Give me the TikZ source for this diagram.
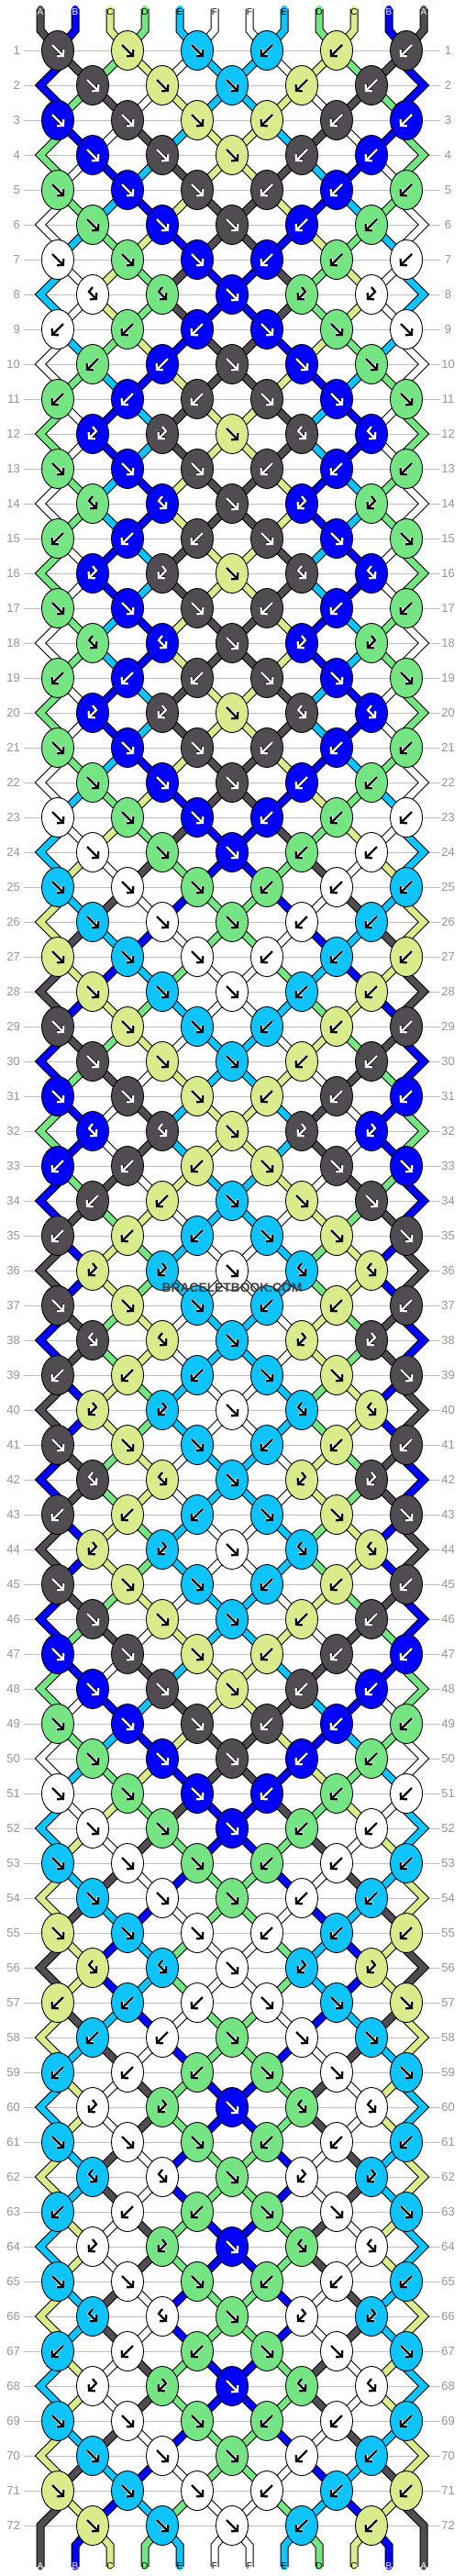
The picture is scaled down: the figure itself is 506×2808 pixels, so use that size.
\documentclass[tikz,border=0pt]{standalone}
\usepackage{fontspec}
\setmainfont{Liberation Sans}
\usetikzlibrary{shapes.geometric,arrows.meta}
\definecolor{yarnA}{RGB}{80,76,82}
\definecolor{yarnB}{RGB}{0,0,255}
\definecolor{yarnC}{RGB}{217,235,138}
\definecolor{yarnD}{RGB}{116,229,130}
\definecolor{yarnE}{RGB}{13,196,253}
\definecolor{yarnF}{RGB}{255,255,255}
\colorlet{tagA}{white}\colorlet{tagB}{white}\colorlet{tagC}{black}
\colorlet{tagD}{black}\colorlet{tagE}{black}\colorlet{tagF}{black}
\definecolor{gridgray}{RGB}{190,190,190}
\definecolor{numgray}{RGB}{150,150,150}
\definecolor{wmgray}{RGB}{64,64,64}
\tikzstyle{knot}     = [ellipse, draw=black, line width=0.9pt, minimum width=35pt, minimum height=43pt, inner sep=0pt]
\tikzstyle{yarnline} = [line width=7pt, line cap=round, line join=miter, preaction={draw=black, line width=9pt}]
\tikzstyle{gridline} = [draw=gridgray, line width=1pt]
\tikzstyle{rowno}    = [text=numgray, font=\fontsize{13}{13}\selectfont, inner sep=0pt]
\tikzstyle{tag}      = [font=\fontsize{10}{10}\selectfont, inner sep=0pt]
\tikzstyle{glyph}    = [line width=2.3pt, line join=miter, -{Straight Barb[length=4.5pt,width=10pt]}]
\tikzstyle{inklite}  = [draw=white, preaction={draw=black, line width=3.3pt}]
\tikzstyle{inkdark}  = [draw=black, preaction={draw=white, line width=3.3pt}]
\def\sideF{l}\def\sideX{l}\def\sideB{r}\def\sideY{r}
\def\flipF{B}\def\flipB{F}\def\flipX{Y}\def\flipY{X}
\def\swapF{1}\def\swapB{1}\def\swapX{0}\def\swapY{0}
\def\inkA{inklite}\def\inkB{inklite}\def\inkC{inkdark}\def\inkD{inkdark}\def\inkE{inkdark}\def\inkF{inkdark}
\newcommand\glyphF{(-6,-6) -- (7,7)}
\newcommand\glyphB{(6,-6) -- (-7,7)}
\newcommand\glyphX{(0,-8) -- (-4,-3) -- (5,6)}
\newcommand\glyphY{(0,-8) -- (4,-3) -- (-5,6)}
\newcommand\settype[3]{%
  \ifnum#1=6
    \ifnum#2<4 \edef\kt{#3}\else\edef\kt{\csname flip#3\endcsname}\fi
  \else
    \ifnum#2<3 \edef\kt{#3}\else\ifnum#2=3 \def\kt{F}\else\edef\kt{\csname flip#3\endcsname}\fi\fi
  \fi}
\newcommand\yarn[2]{\draw[yarnline, draw=yarn#1] #2;}

\begin{document}
\begin{tikzpicture}[x=1pt, y=-1pt]
\useasboundingbox (0,0) rectangle (506,2808);
\fill[white] (0,0) rectangle (506,2808);
\foreach \rw in {1,...,72} {
  \pgfmathtruncatemacro\ky{17+38*\rw}
  \draw[gridline] (26,\ky) -- (480,\ky);
  \node[rowno, anchor=east] (nl-\rw) at (22,\ky) {\rw};
  \node[rowno] (nr-\rw) at (488.5,\ky) {\rw};
}

\foreach \p/\c in {1/A,2/B,3/C,4/D,5/E,6/F,7/F,8/E,9/D,10/C,11/B,12/A} {
  \pgfmathtruncatemacro\sx{6+38*\p}
  \expandafter\xdef\csname st\p\endcsname{\c}
  \coordinate (t-\p) at (\sx,9.5);
  \coordinate (b-\p) at (\sx,2798);
}

\foreach \rt [count=\rw] in {F,F,F,F,F,F,F,X,B,B,B,Y,F,X,B,Y,F,X,B,Y,F,F,F,F,F,F,F,F,F,F,F,X,B,B,B,Y,F,X,B,Y,F,X,B,Y,F,F,F,F,F,F,F,F,F,F,F,X,B,B,B,Y,F,X,B,Y,F,X,B,Y,F,F,F,F} {
  \pgfmathtruncatemacro\ky{17+38*\rw}
  \pgfmathtruncatemacro\rprev{\rw-1}
  \ifodd\rw\relax\def\nk{6}\else\def\nk{5}\fi
  \foreach \q in {1,...,\nk} {
    \settype{\nk}{\q}{\rt}
    \ifodd\rw\relax
      \pgfmathtruncatemacro\lp{2*\q-1}\pgfmathtruncatemacro\kx{76*\q-13}
    \else
      \pgfmathtruncatemacro\lp{2*\q}\pgfmathtruncatemacro\kx{76*\q+25}
    \fi
    \pgfmathtruncatemacro\rp{\lp+1}
    \if l\csname side\kt\endcsname\edef\kc{\csname st\lp\endcsname}\else\edef\kc{\csname st\rp\endcsname}\fi
    \expandafter\xdef\csname kc\rw-\q\endcsname{\kc}
    \expandafter\xdef\csname kt\rw-\q\endcsname{\kt}
    \coordinate (k-\rw-\q) at (\kx,\ky);
  }
  \ifnum\rw=1
    \foreach \p in {1,...,12} {
      \pgfmathtruncatemacro\qb{int((\p+1)/2)}
      \edef\yc{\csname st\p\endcsname}
      \yarn{\yc}{(t-\p) -- ++(0,23.5) -- (k-1-\qb)}
    }
  \else
    \foreach \p in {2,...,11} {
      \ifodd\rw\relax
        \pgfmathtruncatemacro\qa{int(\p/2)}\pgfmathtruncatemacro\qb{int((\p+1)/2)}
      \else
        \pgfmathtruncatemacro\qa{int((\p+1)/2)}\pgfmathtruncatemacro\qb{int(\p/2)}
      \fi
      \edef\yc{\csname st\p\endcsname}
      \yarn{\yc}{(k-\rprev-\qa) -- (k-\rw-\qb)}
    }
    \ifodd\rw\relax
      \pgfmathtruncatemacro\rpp{\rw-2}
      \edef\yc{\csname st1\endcsname}
      \yarn{\yc}{(k-\rpp-1) -- ++(0,19) -- (c-\rprev-L) -- ++(19,19) -- (k-\rw-1)}
      \edef\yc{\csname st12\endcsname}
      \yarn{\yc}{(k-\rpp-6) -- ++(0,19) -- (c-\rprev-R) -- ++(-19,19) -- (k-\rw-6)}
    \else
      \coordinate (c-\rw-L) at (44,\ky);
      \coordinate (c-\rw-R) at (462,\ky);
    \fi
  \fi
  \foreach \q in {1,...,\nk} {
    \settype{\nk}{\q}{\rt}
    \if1\csname swap\kt\endcsname
      \ifodd\rw\relax\pgfmathtruncatemacro\lp{2*\q-1}\else\pgfmathtruncatemacro\lp{2*\q}\fi
      \pgfmathtruncatemacro\rp{\lp+1}
      \edef\ya{\csname st\lp\endcsname}\edef\yb{\csname st\rp\endcsname}
      \expandafter\xdef\csname st\lp\endcsname{\yb}
      \expandafter\xdef\csname st\rp\endcsname{\ya}
    \fi
  }
}

\foreach \p in {2,...,11} {
  \pgfmathtruncatemacro\qb{int(\p/2)}
  \edef\yc{\csname st\p\endcsname}
  \yarn{\yc}{(b-\p) -- ++(0,-23) -- (k-72-\qb)}
}
\edef\yc{\csname st1\endcsname}
\yarn{\yc}{(k-71-1) -- ++(0,19) -- (c-72-L) -- (b-1)}
\edef\yc{\csname st12\endcsname}
\yarn{\yc}{(k-71-6) -- ++(0,19) -- (c-72-R) -- (b-12)}

\foreach \p/\c in {1/A,2/B,3/C,4/D,5/E,6/F,7/F,8/E,9/D,10/C,11/B,12/A} {
  \pgfmathtruncatemacro\sx{6+38*\p}
  \node[tag, text=tag\c] (lt-\p) at (\sx,13) {\c};
  \node[tag, text=tag\c] (lb-\p) at (\sx,2797) {\c};
}

\foreach \rw in {1,...,72} {
  \ifodd\rw\relax\def\nk{6}\else\def\nk{5}\fi
  \foreach \q in {1,...,\nk} {
    \edef\kc{\csname kc\rw-\q\endcsname}
    \edef\kt{\csname kt\rw-\q\endcsname}
    \node[knot, fill=yarn\kc] (k-\rw-\q) at (k-\rw-\q) {};
    \edef\act{\noexpand\draw[glyph,\csname ink\kc\endcsname,shift={(k-\rw-\q.center)}] \csname glyph\kt\endcsname;}\act
  }
}

\node[text=wmgray, font=\bfseries\fontsize{13.8}{14}\selectfont, inner sep=0pt] (wm) at (253,1403.5) {BRACELETBOOK.COM};
\end{tikzpicture}
\end{document}
